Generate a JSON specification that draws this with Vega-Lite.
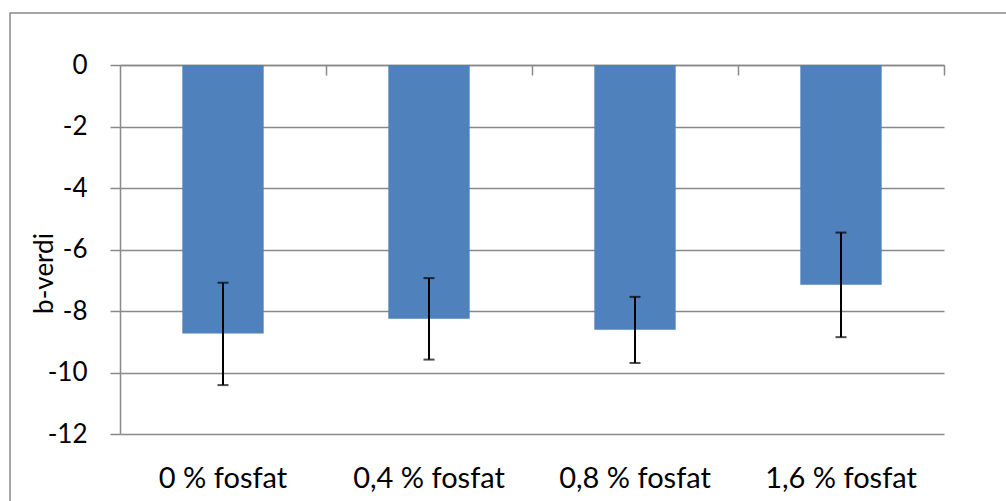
{
  "$schema": "https://vega.github.io/schema/vega-lite/v6.json",
  "autosize": "none",
  "width": 1000,
  "height": 492,
  "padding": {"left": 10, "top": 13, "right": -4, "bottom": -4},
  "background": "white",
  "config": {
    "view": {"stroke": "#898989", "strokeWidth": 1.5},
    "font": "Lato",
    "axis": {"labelFont": "Lato", "titleFont": "Lato", "labelColor": "black", "titleColor": "black", "titleFontWeight": "normal"}
  },
  "data": {
    "values": [
      {"kategori": "0 % fosfat", "b": -8.73, "lo": -10.41, "hi": -7.08},
      {"kategori": "0,4 % fosfat", "b": -8.25, "lo": -9.58, "hi": -6.93},
      {"kategori": "0,8 % fosfat", "b": -8.61, "lo": -9.69, "hi": -7.54},
      {"kategori": "1,6 % fosfat", "b": -7.15, "lo": -8.85, "hi": -5.45}
    ]
  },
  "resolve": {"axis": {"x": "independent"}},
  "layer": [
    {
      "mark": {"type": "bar", "color": "#4F81BD"},
      "encoding": {
        "x": {
          "field": "kategori", "type": "nominal", "sort": null,
          "scale": {"range": [110, 934], "paddingInner": 0.605, "paddingOuter": 0.3025},
          "axis": {"orient": "bottom", "offset": -70, "title": null, "domain": false, "ticks": false, "grid": false, "labelAngle": 0, "labelFontSize": 29, "labelPadding": 29, "labelBaseline": "top"}
        },
        "y": {
          "field": "b", "type": "quantitative",
          "scale": {"domain": [-12, 0], "range": [421, 52], "nice": false, "zero": false},
          "axis": {
            "offset": -110,
            "title": "b-verdi", "titleFontSize": 26, "titleX": -68, "titleY": 260, "titleBaseline": "alphabetic",
            "values": [-12, -10, -8, -6, -4, -2, 0],
            "labelExpr": "replace(datum.label, '\u2212', '-')",
            "labelFontSize": 26, "labelPadding": 23,
            "tickSize": 10, "tickColor": "#898989", "tickWidth": 1.5,
            "domainColor": "#898989", "domainWidth": 1.5,
            "grid": true, "gridColor": "#898989", "gridWidth": 1.5
          }
        }
      }
    },
    {
      "mark": {"type": "rule", "color": "black", "strokeWidth": 2},
      "encoding": {
        "x": {
          "field": "kategori", "type": "nominal", "sort": null,
          "axis": {"orient": "top", "offset": -52, "title": null, "labels": false, "domain": true, "domainColor": "#898989", "domainWidth": 1.5, "ticks": true, "tickOffset": 103, "tickSize": -10, "tickColor": "#898989", "tickWidth": 1.5, "grid": false}
        },
        "y": {"field": "lo", "type": "quantitative"},
        "y2": {"field": "hi"}
      }
    },
    {
      "mark": {"type": "tick", "color": "black", "size": 11, "thickness": 2},
      "encoding": {
        "x": {"field": "kategori", "type": "nominal", "sort": null, "axis": null},
        "y": {"field": "lo", "type": "quantitative"}
      }
    },
    {
      "mark": {"type": "tick", "color": "black", "size": 11, "thickness": 2},
      "encoding": {
        "x": {"field": "kategori", "type": "nominal", "sort": null, "axis": null},
        "y": {"field": "hi", "type": "quantitative"}
      }
    }
  ]
}
